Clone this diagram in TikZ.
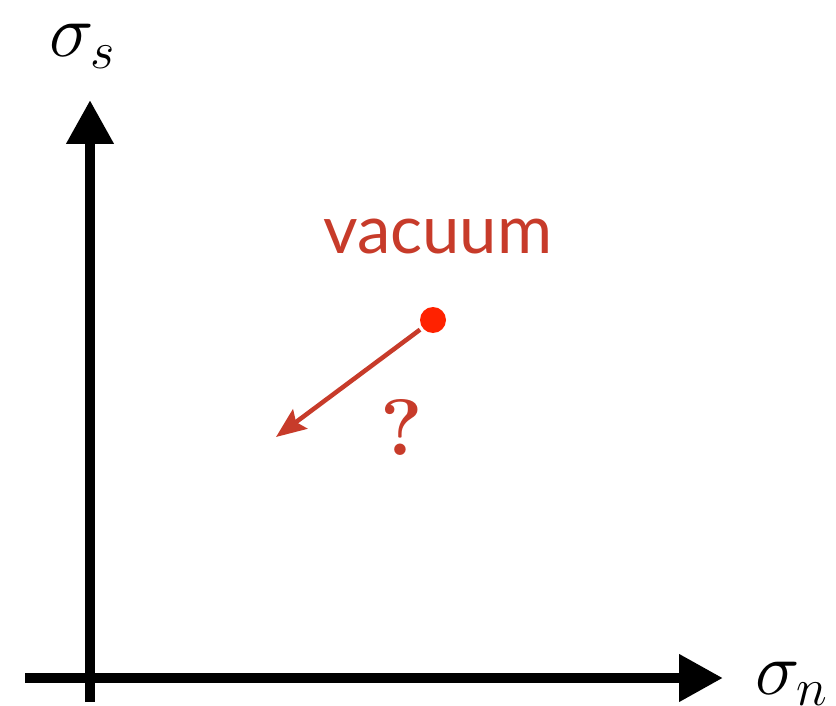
\RequirePackage{fix-cm}
\documentclass[tikz,border=0pt]{standalone}
\usepackage{fontspec}
\newfontfamily\vacfont{Lato}
\usetikzlibrary{arrows.meta}
\definecolor{textred}{HTML}{C73B2A}
\definecolor{dotred}{HTML}{FF2200}
\tikzset{
  axis/.style={black, line width=10.5pt, -{Triangle[length=44pt,width=45pt]}},
  axislabel/.style={inner sep=0pt, anchor=base west, font=\fontsize{75}{78}\selectfont},
  redarrow/.style={textred, line width=4.5pt, -{Stealth[length=30pt,width=24pt,inset=5pt]}, shorten <=3pt},
}
\begin{document}
\begin{tikzpicture}[x=1pt,y=-1pt]
\useasboundingbox (0,0) rectangle (836,706);
% axes
\coordinate (vbot) at (90,702);
\coordinate (vtop) at (90,100);
\coordinate (hleft) at (25,678);
\coordinate (hright) at (723,678);
\draw[axis] (vbot) -- (vtop);
\draw[axis] (hleft) -- (hright);
\node[axislabel] (ls) at (49,57) {$\sigma_s$};
\node[axislabel] (ln) at (755,694) {$\sigma_n$};
% vacuum
\node[inner sep=0pt, anchor=base west, textred, font=\vacfont\fontsize{67}{70}\selectfont] (vac) at (323,253) {vacuum};
\node[circle, fill=dotred, minimum size=26pt, inner sep=0pt] (dot) at (433,320) {};
\coordinate (tip) at (276,437);
\draw[redarrow] (dot) -- (tip);
\node[inner sep=0pt, anchor=base west, textred, font=\fontsize{80}{80}\selectfont\bfseries] (q) at (380,455) {?};
\end{tikzpicture}
\end{document}
